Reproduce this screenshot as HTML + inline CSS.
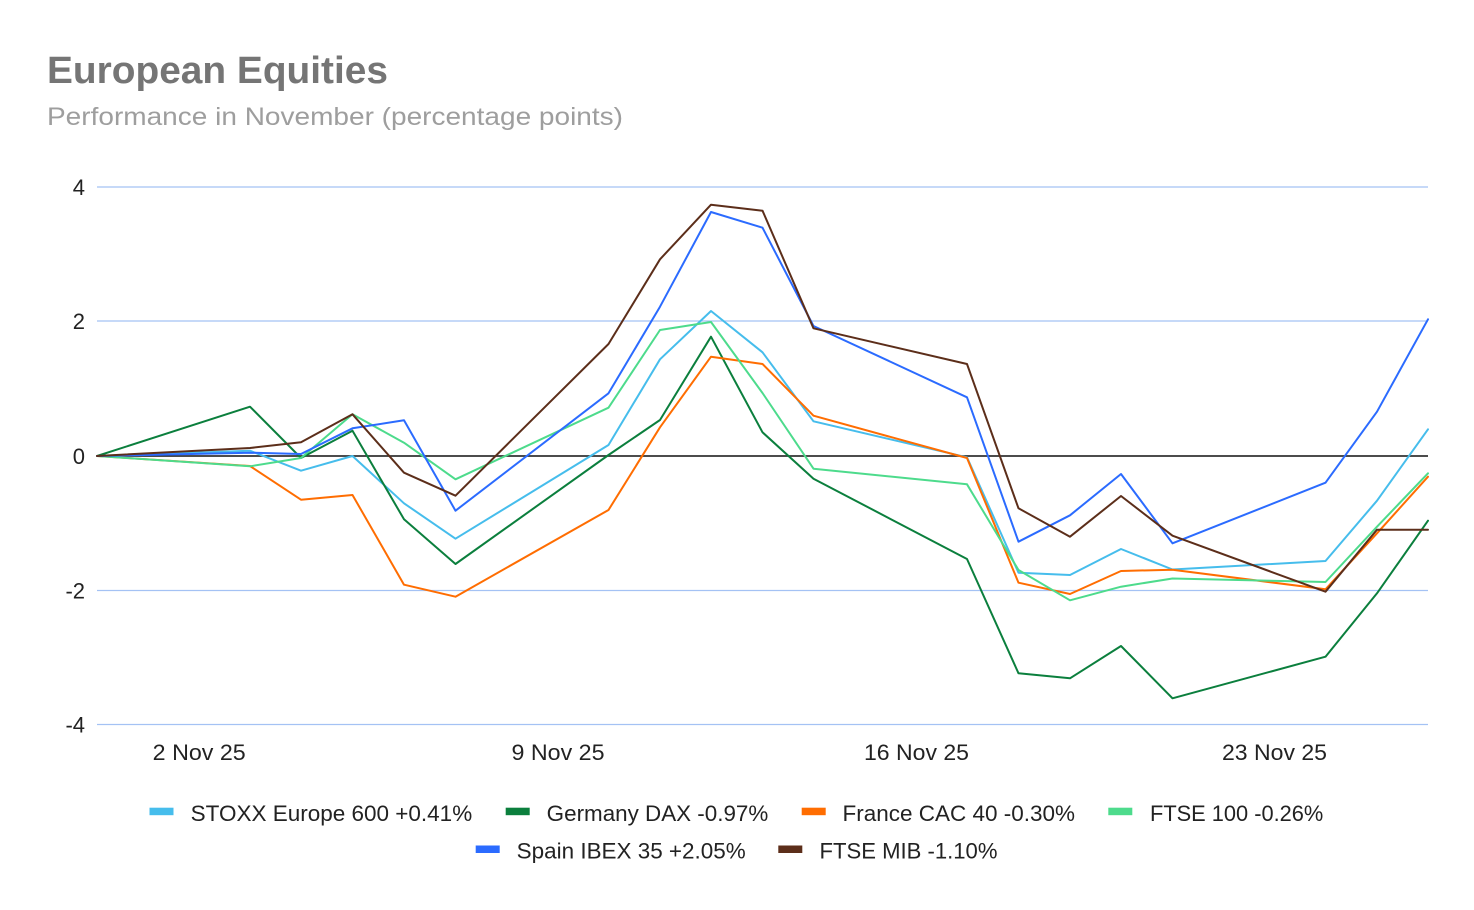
<!DOCTYPE html>
<html>
<head>
<meta charset="utf-8">
<style>
  html, body { margin: 0; padding: 0; background: #ffffff; }
  body { width: 1474px; height: 910px; overflow: hidden; }
  svg { display: block; font-family: "Liberation Sans", Arial, sans-serif; }
</style>
</head>
<body>
<svg width="1474" height="910" viewBox="0 0 1474 910" xmlns="http://www.w3.org/2000/svg">
  <rect x="0" y="0" width="1474" height="910" fill="#ffffff"/>

  <!-- Title -->
  <text x="47" y="83" font-size="38" font-weight="bold" fill="#757575" textLength="341" lengthAdjust="spacingAndGlyphs">European Equities</text>
  <text x="47" y="125" font-size="25" fill="#9e9e9e" textLength="576" lengthAdjust="spacingAndGlyphs">Performance in November (percentage points)</text>

  <!-- Gridlines -->
  <g stroke="#a4c2f4" stroke-width="1.3">
    <line x1="97" y1="187" x2="1428" y2="187"/>
    <line x1="97" y1="321" x2="1428" y2="321"/>
    <line x1="97" y1="590.5" x2="1428" y2="590.5"/>
    <line x1="97" y1="724.5" x2="1428" y2="724.5"/>
  </g>
  <!-- Zero baseline -->
  <line x1="97" y1="456" x2="1428" y2="456" stroke="#333333" stroke-width="1.7"/>

  <!-- Y tick labels -->
  <g font-size="22" fill="#222222" text-anchor="end">
    <text x="85" y="195">4</text>
    <text x="85" y="329">2</text>
    <text x="85" y="464">0</text>
    <text x="85" y="598.5">-2</text>
    <text x="85" y="732.5">-4</text>
  </g>

  <!-- X tick labels -->
  <g font-size="22" fill="#222222">
    <text x="152.7" y="760" textLength="93" lengthAdjust="spacingAndGlyphs">2 Nov 25</text>
    <text x="511.5" y="760" textLength="93" lengthAdjust="spacingAndGlyphs">9 Nov 25</text>
    <text x="864" y="760" textLength="105" lengthAdjust="spacingAndGlyphs">16 Nov 25</text>
    <text x="1222" y="760" textLength="105" lengthAdjust="spacingAndGlyphs">23 Nov 25</text>
  </g>

  <!-- Series -->
  <g fill="none" stroke-width="2" stroke-linejoin="round" stroke-linecap="round">
    <!-- STOXX Europe 600 -->
    <polyline stroke="#46bdec" points="97,456 250,450.7 301,470.7 352.5,456 404,503.3 455.5,538.7 608.5,445 660,359.3 711,311 762.5,352.3 813.5,421.3 967,457.3 1018.5,572.7 1070,575 1121,549 1172.5,569.5 1325.5,561 1377,500.7 1428,429.3"/>
    <!-- Germany DAX -->
    <polyline stroke="#0b7f3d" points="97,456 250,406.7 301,458 352.5,430.7 404,519.3 455.5,564 608.5,455 660,420 711,336.7 762.5,432.3 813.5,478.7 967,559 1018.5,673.3 1070,678.3 1121,646 1172.5,698.3 1325.5,656.7 1377,593.3 1428,520.7"/>
    <!-- France CAC 40 -->
    <polyline stroke="#ff6d01" points="97,456 250,466 301,499.7 352.5,495 404,584.7 455.5,596.7 608.5,510 660,427.3 711,356.7 762.5,364 813.5,415.7 967,458 1018.5,582.7 1070,594 1121,571 1172.5,569.7 1325.5,589.3 1377,533.3 1428,476.7"/>
    <!-- FTSE 100 -->
    <polyline stroke="#4ddb8c" points="97,456 250,466.3 301,458 352.5,414.3 404,442.7 455.5,479.3 608.5,407.7 660,330 711,322 762.5,393 813.5,468.7 967,484.3 1018.5,570 1070,600.3 1121,586.7 1172.5,578.5 1325.5,582 1377,526.7 1428,473.3"/>
    <!-- Spain IBEX 35 -->
    <polyline stroke="#2b6bff" points="97,456 250,452.7 301,454 352.5,428.3 404,420.3 455.5,510.7 608.5,393.3 660,306.7 711,212 762.5,227.7 813.5,326 967,397.3 1018.5,541.7 1070,515.3 1121,474 1172.5,543.3 1325.5,482.7 1377,411.7 1428,319.3"/>
    <!-- FTSE MIB -->
    <polyline stroke="#5c2e1a" points="97,456 250,448 301,442.3 352.5,414.3 404,472.7 455.5,495.7 608.5,344 660,259.3 711,204.7 762.5,210.7 813.5,328.3 967,364 1018.5,508.3 1070,536.7 1121,496 1172.5,535.7 1325.5,591.7 1377,529.7 1428,529.7"/>
  </g>

  <!-- Legend row 1 -->
  <g font-size="22" fill="#222222">
    <rect x="149.5" y="807.7" width="24" height="7.5" fill="#46bdec"/>
    <text x="190.7" y="821" textLength="281.5" lengthAdjust="spacingAndGlyphs">STOXX Europe 600 +0.41%</text>

    <rect x="505.7" y="807.7" width="24" height="7.5" fill="#0b7f3d"/>
    <text x="546.7" y="821" textLength="221.6" lengthAdjust="spacingAndGlyphs">Germany DAX -0.97%</text>

    <rect x="801.7" y="807.7" width="24" height="7.5" fill="#ff6d01"/>
    <text x="842.5" y="821" textLength="232.5" lengthAdjust="spacingAndGlyphs">France CAC 40 -0.30%</text>

    <rect x="1108.3" y="807.7" width="24" height="7.5" fill="#4ddb8c"/>
    <text x="1150" y="821" textLength="173.3" lengthAdjust="spacingAndGlyphs">FTSE 100 -0.26%</text>
  </g>

  <!-- Legend row 2 -->
  <g font-size="22" fill="#222222">
    <rect x="475.7" y="845.5" width="24" height="7.5" fill="#2b6bff"/>
    <text x="516.7" y="858.5" textLength="229" lengthAdjust="spacingAndGlyphs">Spain IBEX 35 +2.05%</text>

    <rect x="778.3" y="845.5" width="24" height="7.5" fill="#5c2e1a"/>
    <text x="819.5" y="858.5" textLength="178" lengthAdjust="spacingAndGlyphs">FTSE MIB -1.10%</text>
  </g>
</svg>
</body>
</html>
